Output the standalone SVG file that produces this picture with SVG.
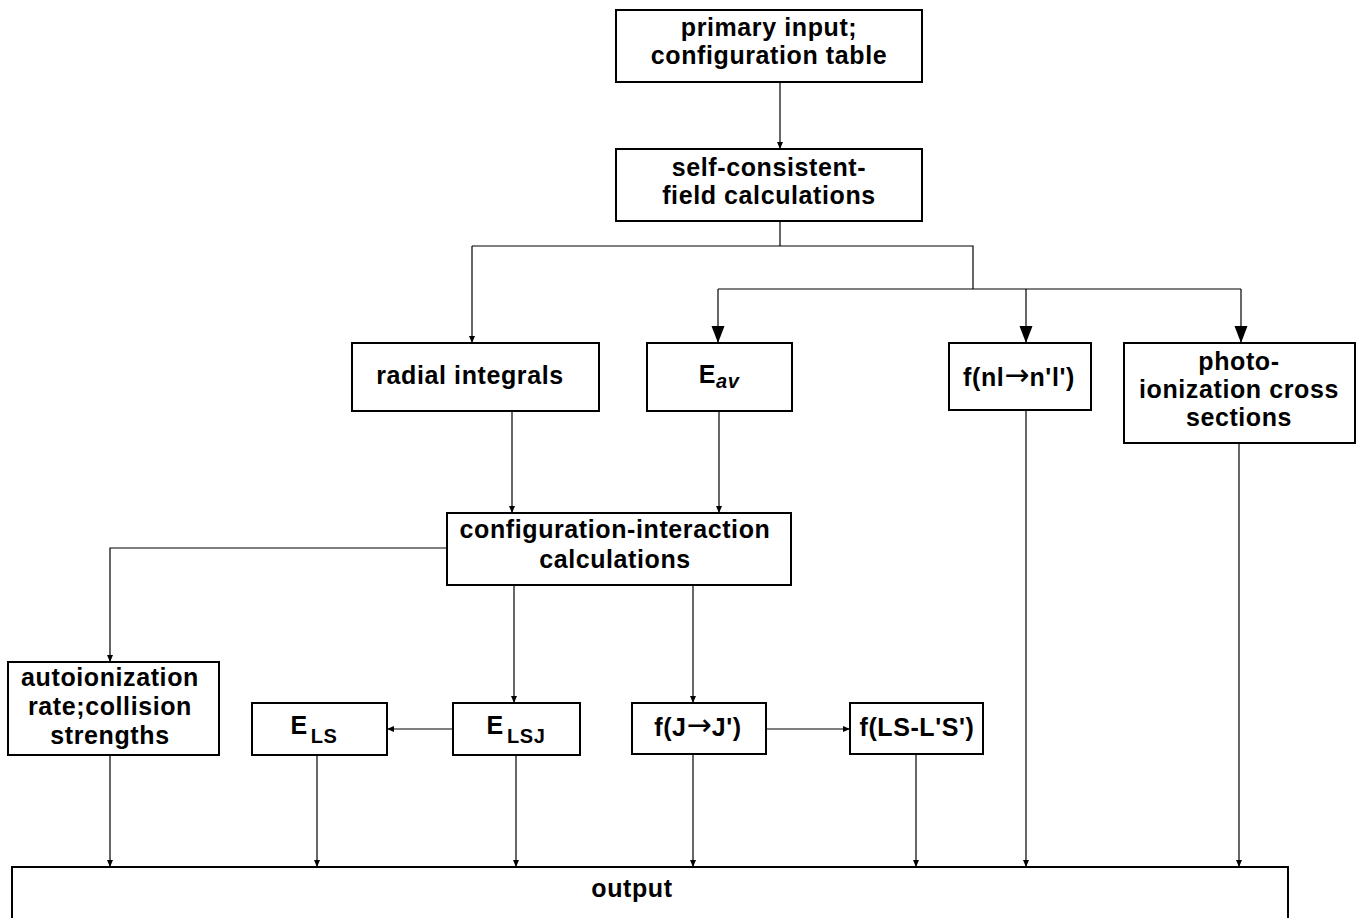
<svg xmlns="http://www.w3.org/2000/svg" width="1362" height="918" viewBox="0 0 1362 918">
<defs>
<marker id="sm" markerUnits="userSpaceOnUse" markerWidth="8" markerHeight="7" refX="7" refY="3" orient="auto"><path d="M0,0 L7,3 L0,6 z" fill="#000"/></marker>
<marker id="lg" markerUnits="userSpaceOnUse" markerWidth="18" markerHeight="14" refX="17" refY="6.5" orient="auto"><path d="M0,0 L17,6.5 L0,13 z" fill="#000"/></marker>
<style>
rect{fill:#fff;stroke:#000;stroke-width:2}
text{font-family:"Liberation Sans",Arial,Helvetica,sans-serif;font-weight:bold;font-size:25px;letter-spacing:0.6px;text-anchor:middle;fill:#000}
.ar{font-family:"DejaVu Sans",sans-serif;font-weight:normal;font-size:30px;letter-spacing:0}
.sub{font-size:20px}
.c{fill:none;stroke:#000;stroke-width:1.2}
.s{marker-end:url(#sm)}
.l{marker-end:url(#lg)}
</style>
</defs>
<g id="connectors">
<path class="c s" d="M780,82 V149"/>
<path class="c" d="M780,221 V246"/>
<path class="c" d="M472,246 H973 V289"/>
<path class="c s" d="M472,246 V343"/>
<path class="c" d="M718,289 H1241"/>
<path class="c l" d="M718,289 V343"/>
<path class="c l" d="M1026,289 V343"/>
<path class="c l" d="M1241,289 V343"/>
<path class="c s" d="M512,411 V513"/>
<path class="c s" d="M719,411 V513"/>
<path class="c s" d="M447,548 H110 V662"/>
<path class="c s" d="M514,585 V703"/>
<path class="c s" d="M693,585 V703"/>
<path class="c s" d="M453,729 H387"/>
<path class="c s" d="M766,729 H850"/>
<path class="c s" d="M110,755 V867"/>
<path class="c s" d="M317,755 V867"/>
<path class="c s" d="M516,755 V867"/>
<path class="c s" d="M693,754 V867"/>
<path class="c s" d="M916,754 V867"/>
<path class="c s" d="M1026,410 V867"/>
<path class="c s" d="M1239,443 V867"/>
</g>
<g id="primary-input"><rect x="616" y="10" width="306" height="72"/><text x="769" y="36">primary input;</text><text x="769" y="64">configuration table</text></g>
<g id="scf"><rect x="616" y="149" width="306" height="72"/><text x="769" y="176">self-consistent-</text><text x="769" y="204">field calculations</text></g>
<g id="radial"><rect x="352" y="343" width="247" height="68"/><text x="470" y="384">radial integrals</text></g>
<g id="eav"><rect x="647" y="343" width="145" height="68"/><text x="719" y="383">E<tspan class="sub" font-style="italic" dy="5">av</tspan></text></g>
<g id="fnl"><rect x="949" y="343" width="142" height="67"/><text x="1019" y="386">f(nl<tspan class="ar" dy="-1">→</tspan><tspan dy="1">n'l')</tspan></text></g>
<g id="photo"><rect x="1124" y="343" width="231" height="100"/><text x="1239" y="370">photo-</text><text x="1239" y="398">ionization cross</text><text x="1239" y="426">sections</text></g>
<g id="ci"><rect x="447" y="513" width="344" height="72"/><text x="615" y="538">configuration-interaction</text><text x="615" y="568">calculations</text></g>
<g id="autoion"><rect x="8" y="662" width="211" height="93"/><text x="110" y="686">autoionization</text><text x="110" y="715">rate;collision</text><text x="110" y="744">strengths</text></g>
<g id="els"><rect x="252" y="703" width="135" height="52"/><text x="314" y="734">E<tspan class="sub" dx="3" dy="9">LS</tspan></text></g>
<g id="elsj"><rect x="453" y="703" width="127" height="52"/><text x="516" y="734">E<tspan class="sub" dx="3" dy="9">LSJ</tspan></text></g>
<g id="fjj"><rect x="632" y="703" width="134" height="51"/><text x="698" y="736">f(J<tspan class="ar" dy="-1">→</tspan><tspan dy="1">J')</tspan></text></g>
<g id="flsls"><rect x="850" y="703" width="133" height="51"/><text x="917" y="736">f(LS-L'S')</text></g>
<g id="output"><rect x="12" y="867" width="1276" height="70"/><text x="632" y="897">output</text></g>
</svg>
